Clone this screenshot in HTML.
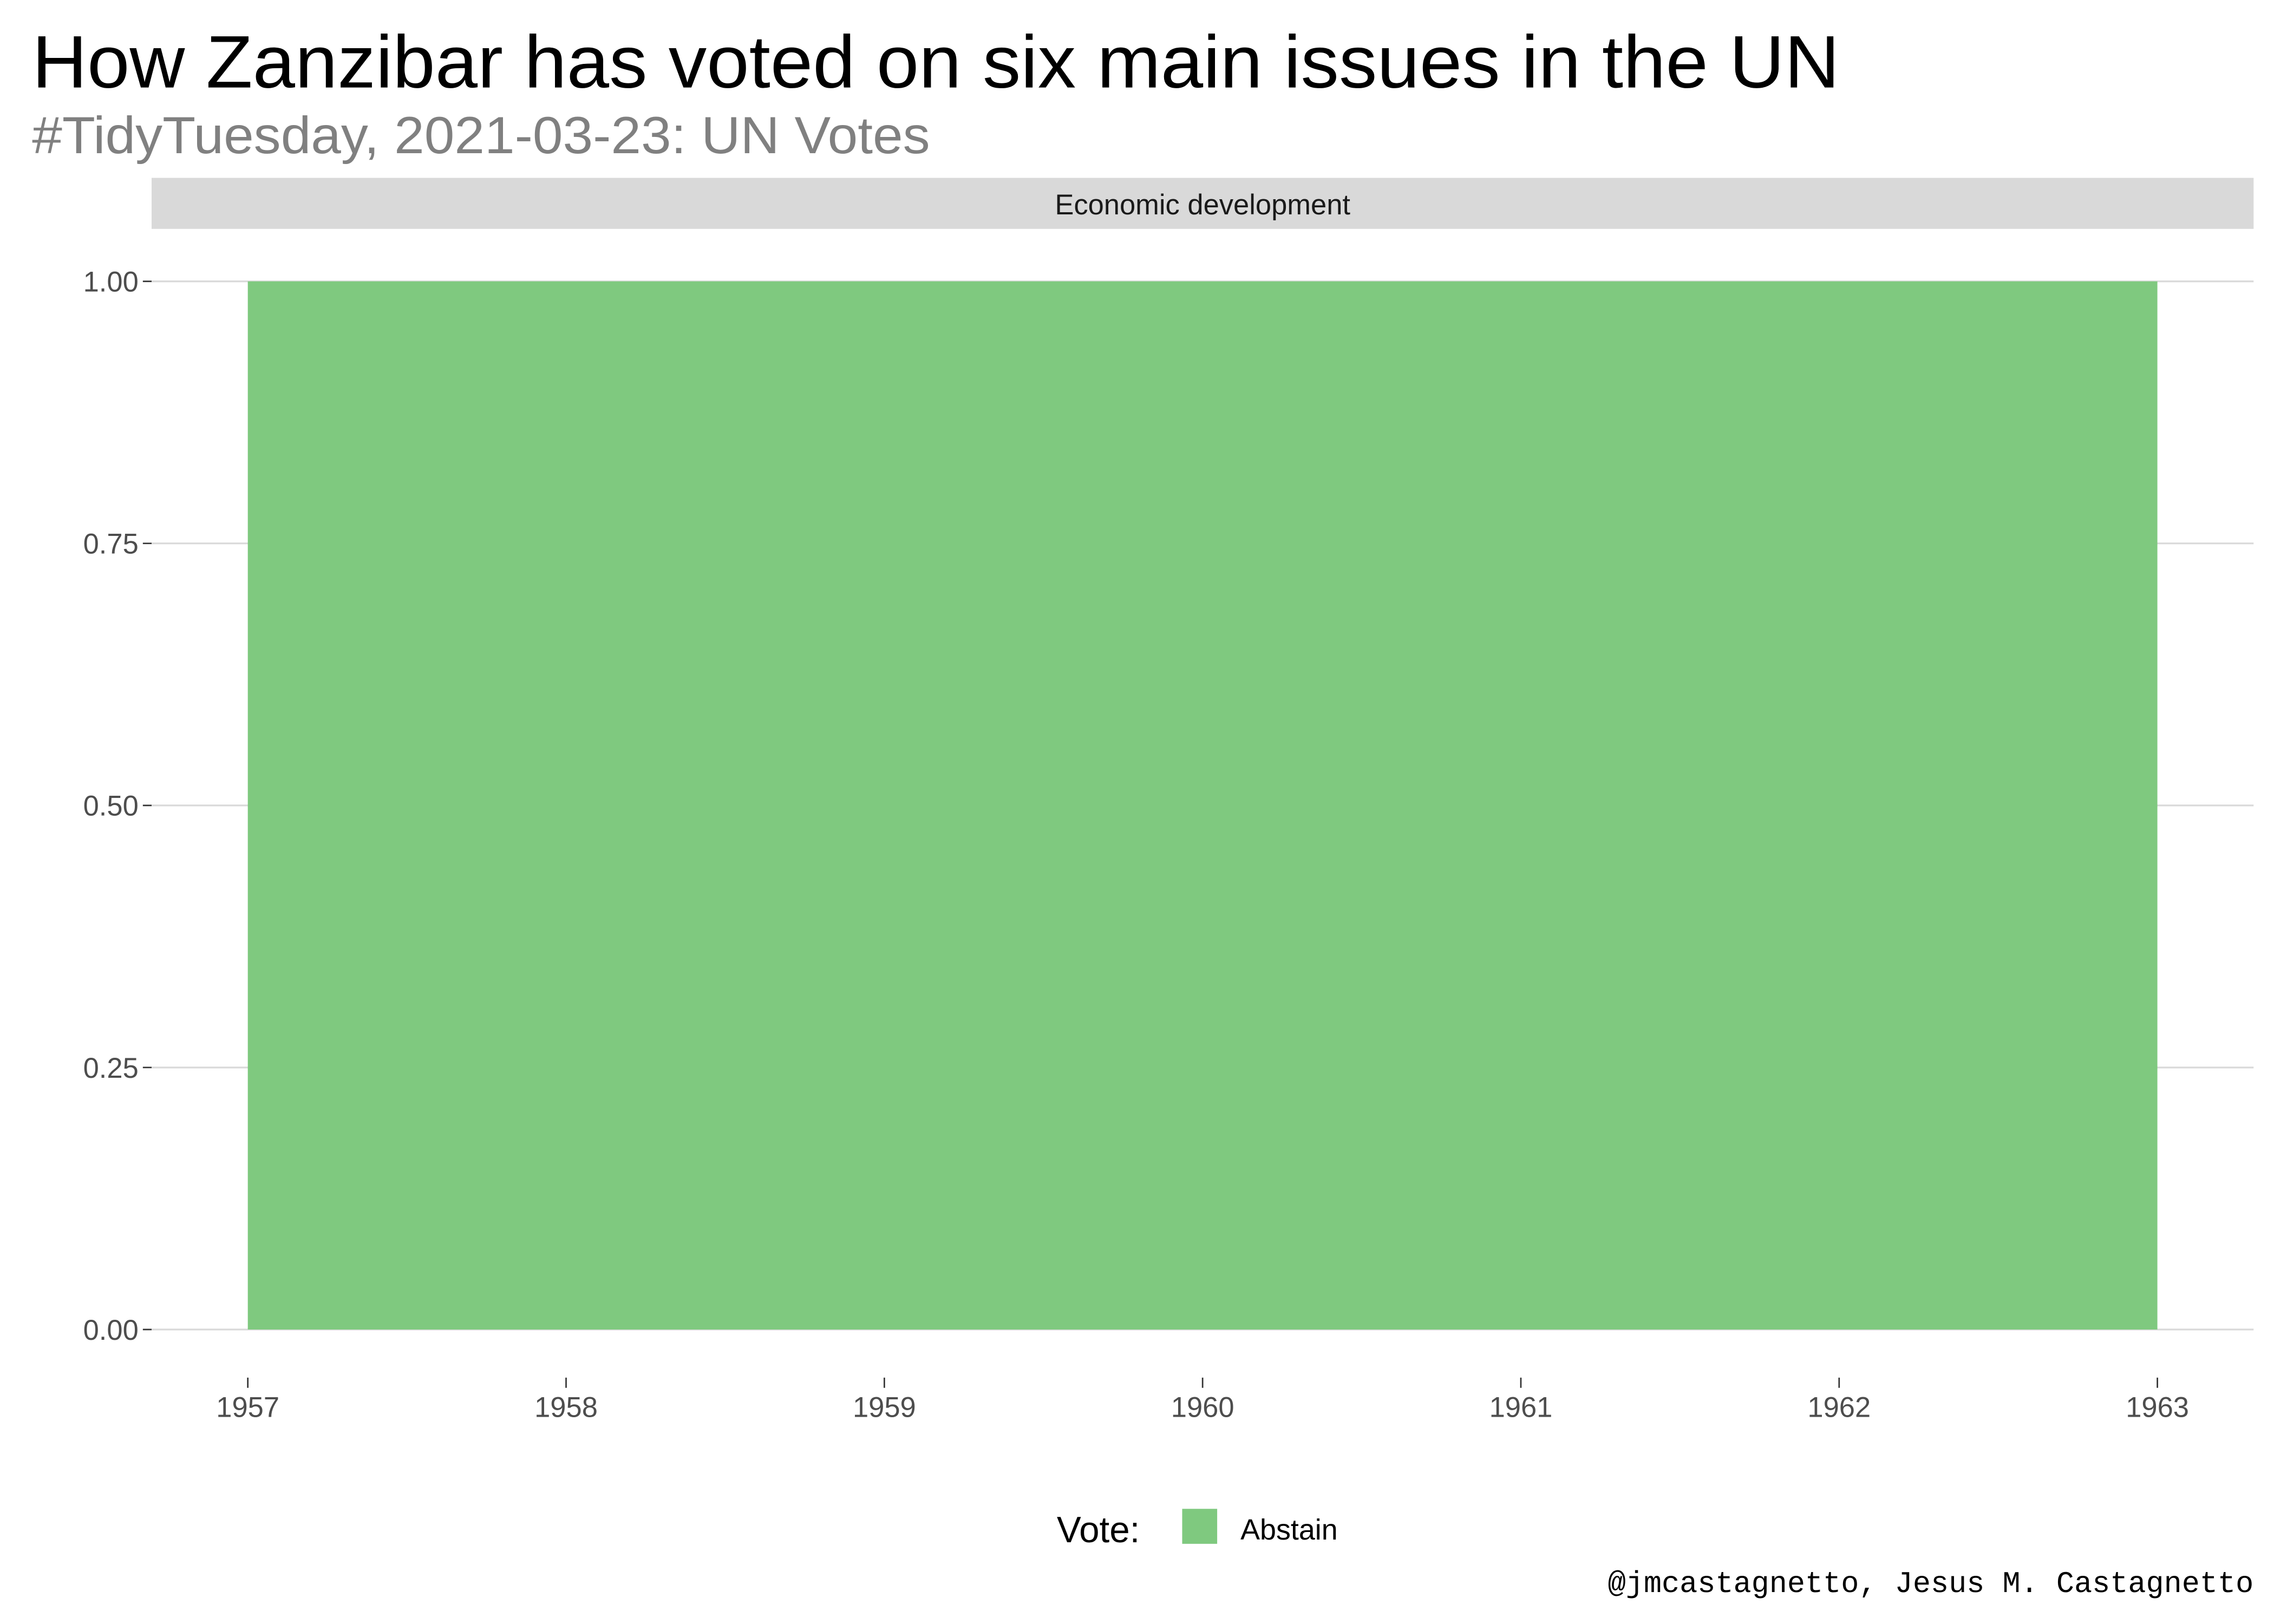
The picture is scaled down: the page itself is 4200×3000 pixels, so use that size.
<!DOCTYPE html>
<html><head><meta charset="utf-8"><style>
html,body{margin:0;padding:0;background:#fff;}
svg{display:block;}
text{font-family:"Liberation Sans",sans-serif;}
</style></head><body>
<svg id="chart" width="4200" height="3000" viewBox="0 0 1560 1114" preserveAspectRatio="none" xmlns="http://www.w3.org/2000/svg">
<rect width="1560" height="1114" fill="#fff"/>
<text x="22" y="60" font-size="51" fill="#000" textLength="1240" lengthAdjust="spacingAndGlyphs">How Zanzibar has voted on six main issues in the UN</text>
<text x="22" y="105" font-size="36" fill="#808080" textLength="616" lengthAdjust="spacingAndGlyphs">#TidyTuesday, 2021-03-23: UN Votes</text>
<rect x="104" y="122" width="1442" height="35" fill="#d9d9d9"/>
<text x="825" y="147" font-size="19.5" text-anchor="middle" fill="#1a1a1a">Economic development</text>
<g id="grid"></g>
<g id="marks"></g>
<g id="axes"></g>
<text x="725" y="1058" font-size="25" fill="#000">Vote:</text>
<rect x="811" y="1035" width="24" height="24" fill="#7fc97f"/>
<text x="851" y="1056" font-size="20" fill="#000">Abstain</text>
<text x="1546" y="1092" font-size="20.5" text-anchor="end" fill="#000" textLength="443" lengthAdjust="spacingAndGlyphs" style="font-family:'Liberation Mono',monospace">@jmcastagnetto, Jesus M. Castagnetto</text>
</svg>
<script>
const years = [1957, 1958, 1959, 1960, 1961, 1962, 1963];
const abstainShare = [1, 1, 1, 1, 1, 1, 1];
const yTicks = [0, 0.25, 0.5, 0.75, 1];
const yTickLabels = ["0.00", "0.25", "0.50", "0.75", "1.00"];
const xTicks = [1957, 1958, 1959, 1960, 1961, 1962, 1963];

const NS = "http://www.w3.org/2000/svg";
const X0 = 170, X1 = 1480, Y0 = 912, Y1 = 193;
function xs(v){ return X0 + (v - 1957) / (1963 - 1957) * (X1 - X0); }
function ys(v){ return Y0 - v * (Y0 - Y1); }
function mk(tag, attrs){ const e = document.createElementNS(NS, tag); for (const k in attrs) e.setAttribute(k, attrs[k]); return e; }

const grid = document.getElementById('grid');
const marks = document.getElementById('marks');
const axes = document.getElementById('axes');

yTicks.forEach((t, i) => {
  const gl = mk('line', {x1:104, x2:1546, y1:ys(t), y2:ys(t), stroke:'#d9d9d9', 'stroke-width':1.2});
  
  
  grid.appendChild(gl);
  const tk = mk('line', {x1:98, x2:104, y1:ys(t), y2:ys(t), stroke:'#333', 'stroke-width':1});
  
  
  axes.appendChild(tk);
  const lb = mk('text', {x:95, y:ys(t) + 7, 'font-size':19.5, 'text-anchor':'end', fill:'#4d4d4d'});
  lb.textContent = yTickLabels[i];
  
  
  axes.appendChild(lb);
});

let d = 'M' + xs(years[0]) + ',' + ys(0);
years.forEach((y, i) => { d += ' L' + xs(y) + ',' + ys(abstainShare[i]); });
d += ' L' + xs(years[years.length - 1]) + ',' + ys(0) + ' Z';
const area = mk('path', {d: d, fill:'#7fc97f'});


marks.appendChild(area);

xTicks.forEach(t => {
  const tk = mk('line', {x1:xs(t), x2:xs(t), y1:945, y2:952, stroke:'#333', 'stroke-width':1});
  
  
  axes.appendChild(tk);
  const lb = mk('text', {x:xs(t), y:972, 'font-size':19.5, 'text-anchor':'middle', fill:'#4d4d4d'});
  lb.textContent = String(t);
  
  
  axes.appendChild(lb);
});
</script>
</body></html>
